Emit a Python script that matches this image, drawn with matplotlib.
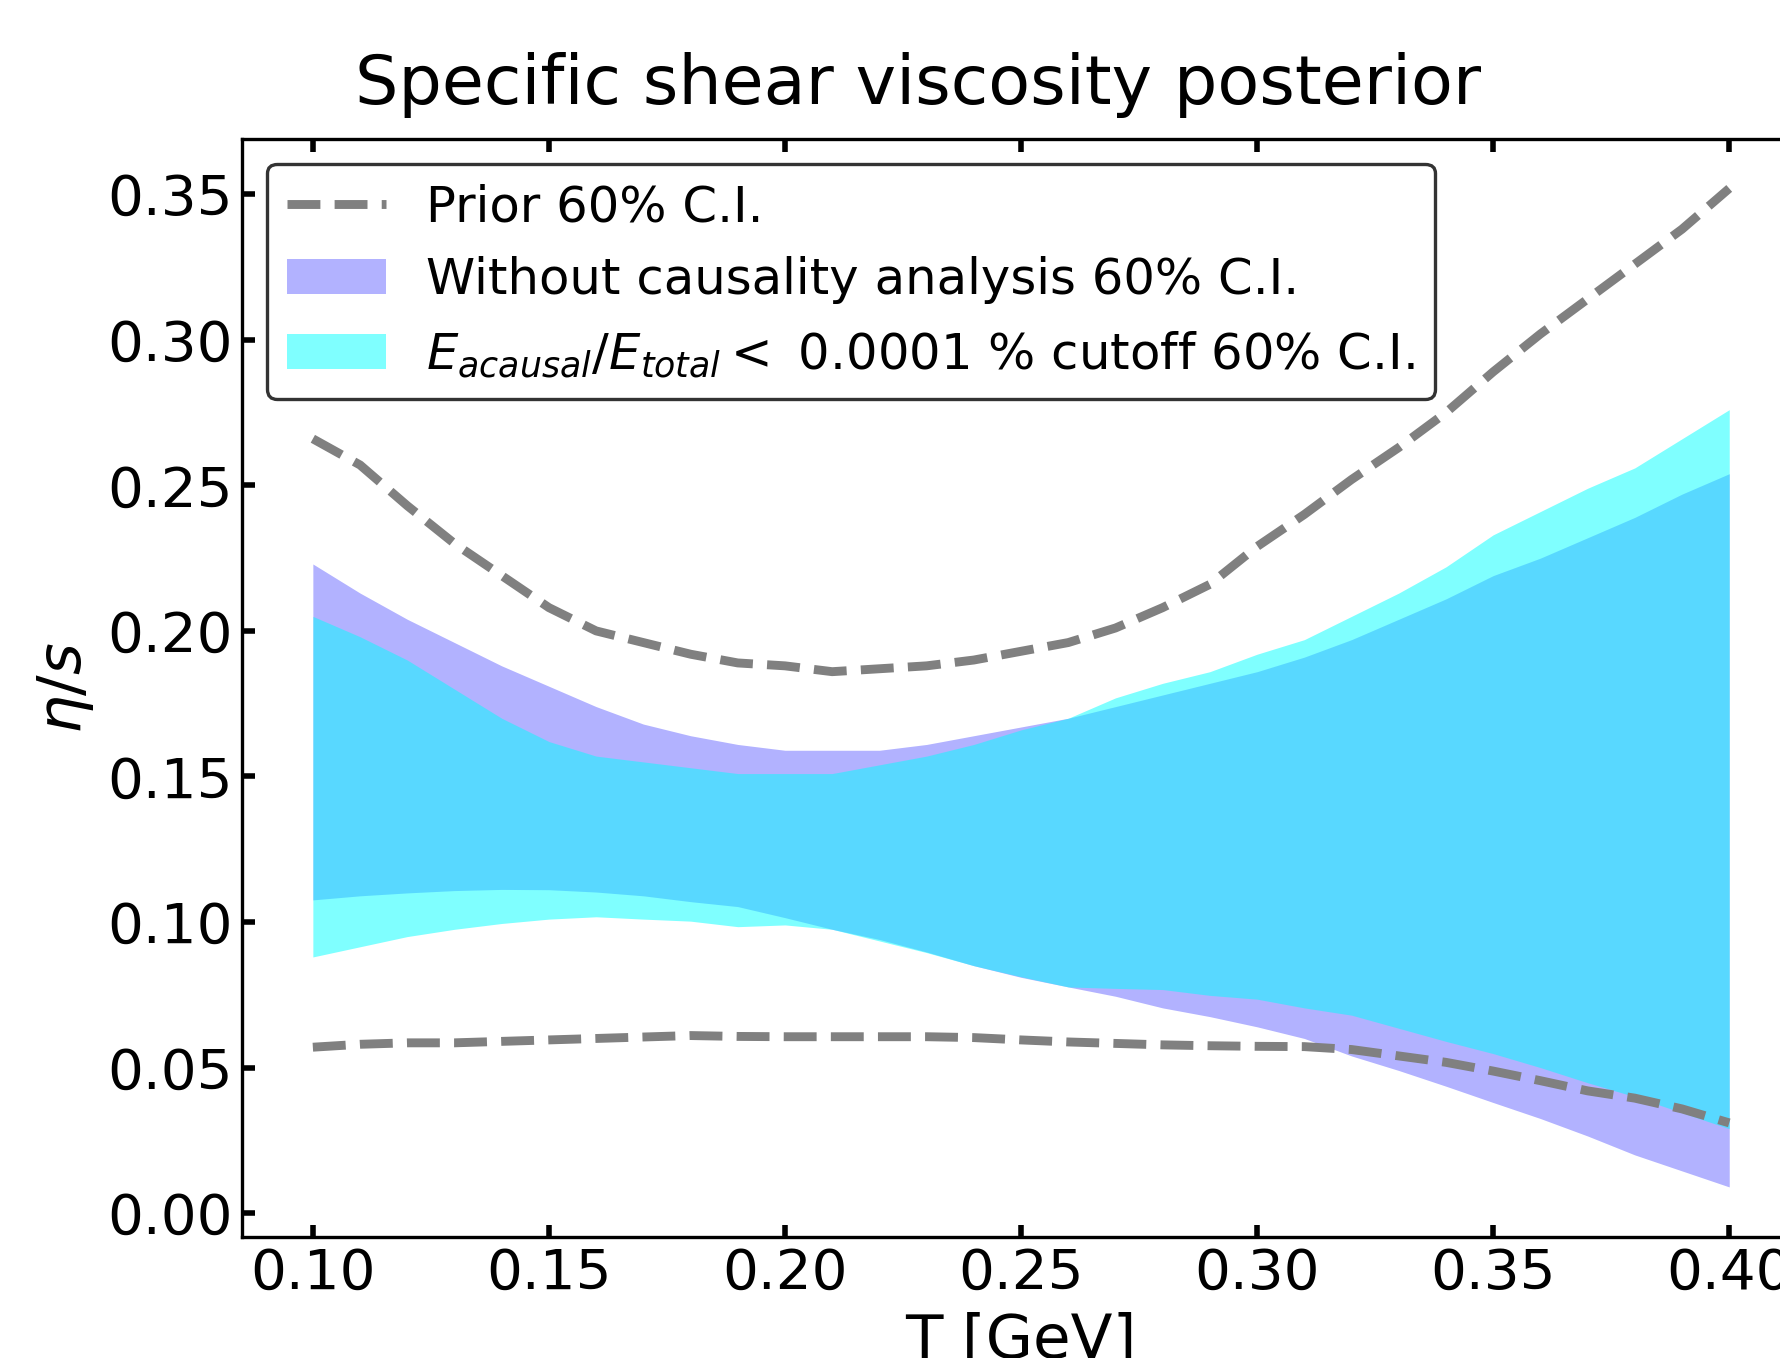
"""
plot.py
=======
Specific shear viscosity posterior -- prior band vs. posterior 60% C.I.
with and without the causality cut.
"""

import numpy as np
import matplotlib
matplotlib.use('Agg')
import matplotlib.pyplot as plt

# ─────────────────────────────────────────────
# Data
# ─────────────────────────────────────────────
T_GEV = [0.10, 0.11, 0.12, 0.13, 0.14, 0.15, 0.16, 0.17, 0.18, 0.19, 0.20,
         0.21, 0.22, 0.23, 0.24, 0.25, 0.26, 0.27, 0.28, 0.29, 0.30,
         0.31, 0.32, 0.33, 0.34, 0.35, 0.36, 0.37, 0.38, 0.39, 0.40]

prior_hi = [0.266, 0.257, 0.243, 0.230, 0.219, 0.208, 0.200, 0.196, 0.192, 0.189, 0.188,
            0.186, 0.187, 0.188, 0.190, 0.193, 0.196, 0.201, 0.208, 0.216, 0.229,
            0.240, 0.252, 0.263, 0.275, 0.289, 0.302, 0.314, 0.326, 0.338, 0.352]
prior_lo = [0.057, 0.058, 0.0585, 0.0585, 0.059, 0.0595, 0.060, 0.0605, 0.061, 0.0607, 0.0606,
            0.0606, 0.0606, 0.0606, 0.0603, 0.0595, 0.0588, 0.0583, 0.0578, 0.0575, 0.0573,
            0.0572, 0.0562, 0.054, 0.0518, 0.0488, 0.0455, 0.042, 0.0395, 0.0358, 0.031]

# without causality analysis
nocut_hi = [0.223, 0.213, 0.204, 0.196, 0.188, 0.181, 0.174, 0.168, 0.164, 0.161, 0.159,
            0.159, 0.159, 0.161, 0.164, 0.167, 0.170, 0.174, 0.178, 0.182, 0.186,
            0.191, 0.197, 0.204, 0.211, 0.219, 0.225, 0.232, 0.239, 0.247, 0.254]
nocut_lo = [0.1076, 0.109, 0.110, 0.1108, 0.1112, 0.1111, 0.1103, 0.109, 0.107, 0.1053, 0.1015,
            0.0975, 0.094, 0.0897, 0.085, 0.081, 0.0777, 0.0745, 0.0705, 0.0675, 0.064,
            0.060, 0.054, 0.049, 0.0436, 0.038, 0.0325, 0.0265, 0.020, 0.0145, 0.009]

# E_acausal/E_total < 0.0001 % cutoff
cut_hi = [0.205, 0.198, 0.190, 0.180, 0.170, 0.162, 0.157, 0.155, 0.153, 0.151, 0.151,
          0.151, 0.154, 0.157, 0.161, 0.166, 0.170, 0.177, 0.182, 0.186, 0.192,
          0.197, 0.205, 0.213, 0.222, 0.233, 0.241, 0.249, 0.256, 0.266, 0.276]
cut_lo = [0.088, 0.0915, 0.095, 0.0975, 0.0995, 0.101, 0.1018, 0.101, 0.1003, 0.0984, 0.099,
          0.0975, 0.0935, 0.0895, 0.085, 0.0812, 0.0777, 0.0772, 0.0768, 0.0748, 0.0735,
          0.0705, 0.068, 0.0635, 0.059, 0.0548, 0.050, 0.0448, 0.040, 0.0345, 0.029]

X_TICKS = [0.10, 0.15, 0.20, 0.25, 0.30, 0.35, 0.40]
Y_TICKS = [0.00, 0.05, 0.10, 0.15, 0.20, 0.25, 0.30, 0.35]

# ─────────────────────────────────────────────
# Style
# ─────────────────────────────────────────────
DPI       = 200
FIG_W     = 1781 / DPI
FIG_H     = 1358 / DPI
TICK_FS   = 20.3
LABEL_FS  = 22
LEGEND_FS = 17.9
TITLE_FS  = 24.6

# ─────────────────────────────────────────────
# Plot
# ─────────────────────────────────────────────
fig = plt.figure(figsize=(FIG_W, FIG_H), dpi=DPI)
ax  = fig.add_axes([0.1359, 0.0891, 0.8748, 0.8088])

ax.plot(T_GEV, prior_lo, color='gray', lw=3.2, ls='--', label='Prior 60% C.I.')
ax.plot(T_GEV, prior_hi, color='gray', lw=3.2, ls='--')
ax.fill_between(T_GEV, nocut_lo, nocut_hi, color='b', alpha=0.3, lw=0,
                label='Without causality analysis 60% C.I.')
ax.fill_between(T_GEV, cut_lo, cut_hi, color='cyan', alpha=0.5, lw=0,
                label=r'$E_{acausal}/E_{total} <$ 0.0001 % cutoff 60% C.I.')

ax.set_xlim(0.085, 0.415)
ax.set_ylim(-0.0082, 0.3691)
ax.set_xticks(X_TICKS)
ax.set_yticks(Y_TICKS)
ax.set_xticklabels([f'{t:.2f}' for t in X_TICKS])
ax.set_yticklabels([f'{t:.2f}' for t in Y_TICKS])
ax.tick_params(direction='in', top=True, right=True, length=4.5, width=2.0,
               labelsize=TICK_FS, pad=3.5)
for sp in ax.spines.values():
    sp.set_linewidth(1.2)

ax.set_xlabel('T [GeV]', fontsize=LABEL_FS)
ax.set_ylabel(r'$\eta/s$', fontsize=LABEL_FS, labelpad=4)

leg = ax.legend(loc='upper left', fontsize=LEGEND_FS, fancybox=True, framealpha=1.0)
leg.get_frame().set_edgecolor('0.2')
leg.get_frame().set_linewidth(1.2)

fig.text(0.5154, 0.9234, 'Specific shear viscosity posterior',
         ha='center', va='baseline', fontsize=TITLE_FS)

fig.savefig('out.png', dpi=DPI)
